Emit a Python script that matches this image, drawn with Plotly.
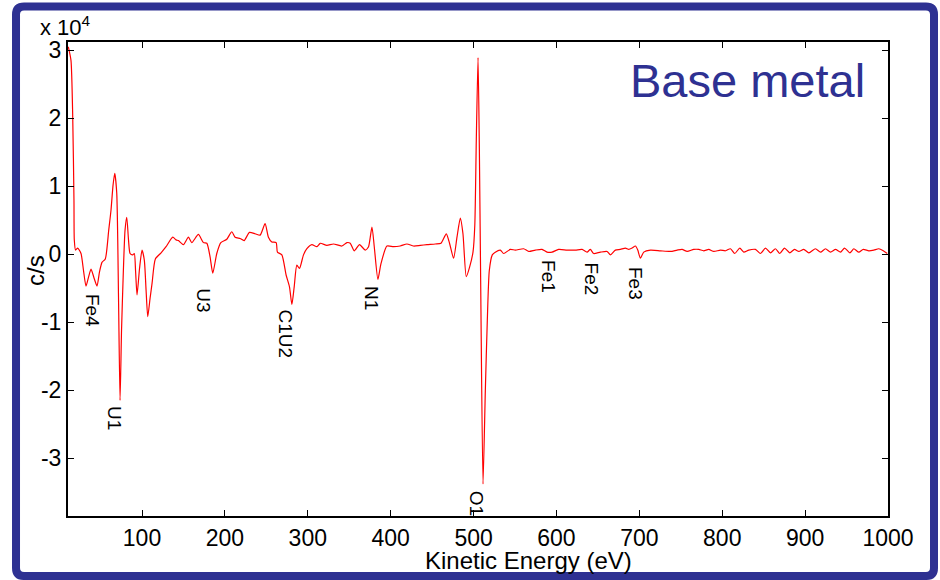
import plotly.graph_objects as go

# Kinetic energy (eV) and counts (units of 10^4 c/s)
energy_eV = [
    11.1, 14.3, 16.4, 17.9, 18.3, 19.8, 22.4, 26.4, 29.4, 32.4, 35.4, 38.5, 42.1, 45.7, 48.7,
    51.7, 55.7, 59.8, 62.6, 65.0, 67.1, 69.5, 71.7, 73.5, 75.3, 77.5, 79.5, 81.6, 83.7, 85.6,
    88.8, 90.7, 92.2, 94.0, 97.0, 100.0, 102.8, 104.9, 106.9, 109.7, 112.1, 116.1, 123.0, 129.0,
    137.1, 141.1, 143.9, 149.9, 156.0, 160.0, 168.0, 174.1, 178.2, 182.1, 185.4, 190.2, 195.1,
    202.3, 208.3, 212.3, 218.4, 223.2, 229.6, 236.5, 242.5, 248.5, 252.5, 256.6, 261.8, 263.4,
    268.7, 273.9, 277.9, 280.8, 283.6, 286.8, 290.0, 294.8, 298.9, 304.9, 311.0, 315.0, 323.0,
    331.0, 341.1, 347.2, 351.2, 356.0, 362.4, 369.3, 373.3, 377.4, 380.2, 384.6, 388.3, 395.5,
    403.4, 411.5, 419.6, 427.6, 435.7, 443.8, 453.8, 460.7, 467.1, 471.0, 475.9, 480.0, 484.0,
    487.2, 491.2, 495.2, 499.3, 501.5, 503.3, 505.4, 507.0, 508.8, 511.4, 514.2, 516.6, 519.0,
    522.6, 526.2, 532.3, 536.3, 544.3, 550.4, 560.4, 566.5, 574.5, 582.6, 588.6, 594.7, 602.6,
    612.8, 622.8, 630.9, 636.9, 640.9, 644.9, 653.0, 661.1, 665.1, 671.1, 677.1, 683.2, 687.2,
    691.3, 695.3, 698.1, 701.3, 705.3, 713.4, 725.4, 737.5, 745.6, 751.6, 757.7, 765.6, 771.7,
    777.7, 783.7, 789.8, 797.8, 803.9, 809.9, 815.1, 821.2, 826.0, 832.0, 840.1, 846.1, 852.2,
    858.2, 864.2, 869.4, 875.1, 881.5, 887.2, 892.4, 898.4, 904.5, 912.5, 918.6, 924.6, 930.7,
    936.7, 942.7, 947.6, 954.0, 958.8, 964.8, 970.1, 976.9, 982.9, 988.9, 994.3, 999.1,
]
counts_1e4 = [
    3.05, 2.85, 2.02, 0.79, 0.21, 0.06, 0.09, 0.01, -0.24, -0.47, -0.34, -0.22, -0.35, -0.47, -0.26,
    -0.12, -0.07, 0.35, 0.65, 1.01, 1.19, 0.90, -0.68, -2.15, -1.12, -0.24, 0.35, 0.54, 0.21, 0.01,
    -0.01, 0.01, -0.24, -0.60, -0.21, 0.06, -0.09, -0.53, -0.92, -0.65, -0.43, -0.07, 0.02, 0.11,
    0.25, 0.21, 0.20, 0.14, 0.25, 0.17, 0.29, 0.17, 0.16, -0.04, -0.28, 0.01, 0.17,
    0.22, 0.33, 0.25, 0.23, 0.20, 0.32, 0.30, 0.28, 0.45, 0.25, 0.18, 0.17, 0.03,
    -0.01, -0.31, -0.48, -0.74, -0.48, -0.16, -0.21, -0.01, 0.08, 0.14, 0.11, 0.16, 0.13,
    0.15, 0.12, 0.17, 0.16, 0.05, 0.14, 0.06, 0.11, 0.40, 0.11, -0.37, -0.14, 0.12,
    0.11, 0.12, 0.15, 0.12, 0.13, 0.14, 0.15, 0.16, 0.30, 0.16, -0.06, 0.25, 0.53,
    0.30, -0.33, -0.19, 0.03, 0.43, 1.68, 2.89, 1.53, -0.68, -3.38, -2.00, -0.97, -0.24,
    -0.01, 0.03, 0.06, 0.01, 0.07, 0.06, 0.08, 0.04, 0.06, 0.07, 0.03, 0.03, 0.07,
    0.06, 0.06, 0.07, 0.03, 0.07, 0.01, 0.03, 0.04, -0.01, 0.06, 0.07, 0.09, 0.07,
    0.09, 0.12, 0.06, -0.06, 0.03, 0.06, 0.05, 0.04, 0.06, 0.07, 0.04, 0.07, 0.07,
    0.05, 0.07, 0.04, 0.06, 0.05, 0.08, 0.01, 0.09, 0.03, 0.06, 0.07, 0.01, 0.09,
    0.02, 0.08, 0.01, 0.09, 0.02, 0.07, 0.04, 0.07, 0.02, 0.08, 0.03, 0.08, 0.03,
    0.07, 0.03, 0.09, 0.02, 0.08, 0.03, 0.07, 0.05, 0.06, 0.08, 0.05, 0.01,
]

# Peak labels (text, energy, counts position of label centre)
peak_labels = ["Fe4", "U1", "U3", "C1U2", "N1", "O1", "Fe1", "Fe2", "Fe3"]
peak_x = [39.7, 67.4, 173.7, 272.7, 377.1, 504.5, 590.5, 641.8, 695.3]
peak_y = [-0.82, -2.41, -0.68, -1.17, -0.64, -3.66, -0.33, -0.36, -0.43]

x_ticks = [100, 200, 300, 400, 500, 600, 700, 800, 900, 1000]
y_ticks = [-3, -2, -1, 0, 1, 2, 3]
y_ticktext = ["-3", "-2", "-1", "0", "1", "2", "3"]

FONT = "Arial, Liberation Sans, Helvetica, sans-serif"
NAVY = "#2E3192"

fig = go.Figure()
fig.add_trace(go.Scatter(x=energy_eV, y=counts_1e4, mode="lines",
                         line=dict(color="#FF0000", width=1.2, shape="spline", smoothing=0.6),
                         hoverinfo="skip", showlegend=False))

for t, px_, py_ in zip(peak_labels, peak_x, peak_y):
    fig.add_annotation(x=px_, y=py_, xref="x", yref="y", text=t, textangle=90,
                       xanchor="center", yanchor="middle",
                       showarrow=False, font=dict(family=FONT, size=19, color="black"))

ann = [
    dict(x=0.561, y=-0.093, text="Kinetic Energy (eV)", font=dict(size=24)),
    dict(x=-0.039, y=0.517, text="c/s", textangle=-90, font=dict(size=24)),
    dict(x=0.829, y=0.918, text="Base metal", font=dict(size=47, color=NAVY)),
]
for a in ann:
    f = dict(family=FONT, color="black")
    f.update(a.pop("font"))
    fig.add_annotation(xref="paper", yref="paper", showarrow=False, font=f,
                       xanchor="center", yanchor="middle", **a)

fig.add_annotation(xref="paper", yref="paper", x=-0.036, y=1.0, xanchor="left", yanchor="bottom",
                   text="x 10<sup>4</sup>", showarrow=False,
                   font=dict(family=FONT, size=22, color="black"))

# rounded navy frame
x0, x1, y0, y1 = -0.0634, 1.0561, -0.1266, 1.0749
rx, ry = 0.0098, 0.0169
path = (f"M {x0+rx},{y0} L {x1-rx},{y0} Q {x1},{y0} {x1},{y0+ry} L {x1},{y1-ry} "
        f"Q {x1},{y1} {x1-rx},{y1} L {x0+rx},{y1} Q {x0},{y1} {x0},{y1-ry} "
        f"L {x0},{y0+ry} Q {x0},{y0} {x0+rx},{y0} Z")
fig.add_shape(type="path", path=path, xref="paper", yref="paper",
              line=dict(color=NAVY, width=8), layer="above")

axis_common = dict(showgrid=False, zeroline=False, showline=True, linecolor="black",
                   linewidth=2, mirror="ticks", ticks="inside", ticklen=6, tickwidth=1,
                   tickcolor="black", tickfont=dict(family=FONT, size=23, color="black"))
fig.update_xaxes(range=[10.7, 1000], tickvals=x_ticks, **axis_common)
fig.update_yaxes(range=[-3.85, 3.12], tickvals=y_ticks, ticktext=y_ticktext, **axis_common)

fig.update_layout(width=940, height=580, margin=dict(l=68, r=52, t=42, b=64),
                  plot_bgcolor="white", paper_bgcolor="white",
                  font=dict(family=FONT, color="black"))

fig.write_html("out.html", config={"displayModeBar": False},
               post_script="document.body.style.margin='0';document.body.style.overflow='hidden';")
